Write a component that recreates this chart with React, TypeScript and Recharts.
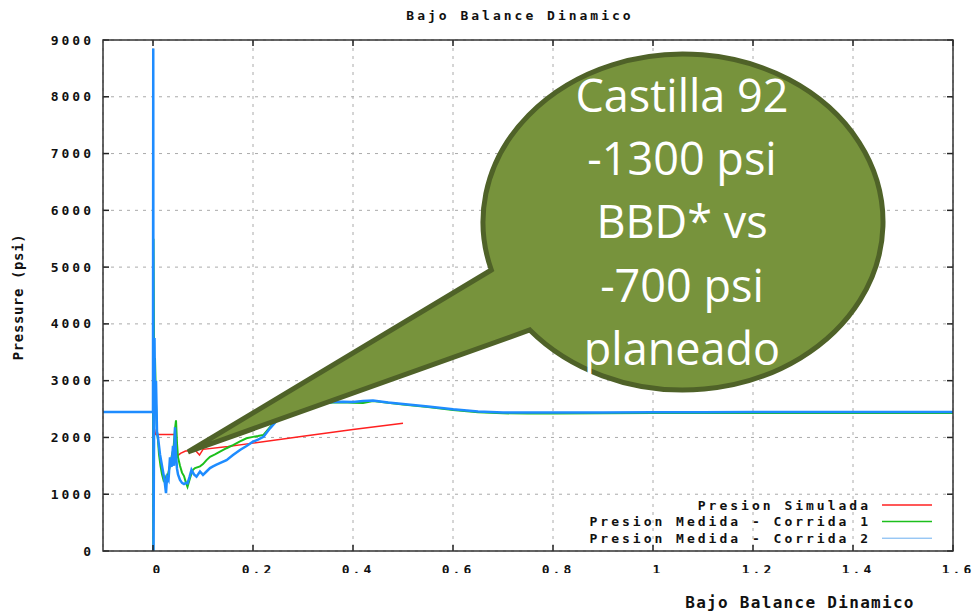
import React from "react"
import { LineChart, Line, XAxis, YAxis, CartesianGrid } from "recharts"

const W = 972
const H = 613
const PL = 103
const PT = 40
const PR = 953
const PB = 551

const FONT = '"DejaVu Sans Mono", monospace'

// Presion Simulada
const simT = [0.003, 0.005, 0.045, 0.047, 0.055, 0.065, 0.085, 0.093, 0.1, 0.15, 0.2, 0.3, 0.4, 0.5]
const simP = [2150, 2050, 2050, 1660, 1720, 1760, 1770, 1690, 1790, 1840, 1900, 2020, 2140, 2250]

// Presion Medida - Corrida 1
const run1T = [
  -0.1, 0, 0.0005, 0.001, 0.002, 0.003, 0.004, 0.006, 0.008, 0.01, 0.012, 0.015, 0.018, 0.021, 0.024, 0.027,
  0.03, 0.034, 0.038, 0.041, 0.044, 0.046, 0.048, 0.05, 0.054, 0.058, 0.062, 0.066, 0.069, 0.074, 0.079, 0.084,
  0.094, 0.1, 0.107, 0.114, 0.124, 0.134, 0.147, 0.161, 0.174, 0.187, 0.2, 0.21, 0.221, 0.231, 0.241, 0.26,
  0.28, 0.3, 0.33, 0.36, 0.38, 0.4, 0.42, 0.44, 0.47, 0.5, 0.55, 0.6, 0.65, 0.7, 0.75, 0.8, 0.9, 1.0, 1.2, 1.4, 1.6,
]
const run1P = [
  2450, 2450, 0, 5500, 3700, 2900, 3400, 2600, 2100, 1950, 1700, 1500, 1350, 1250, 1300, 1200,
  1350, 1500, 1700, 1800, 2150, 2300, 1900, 1650, 1500, 1380, 1320, 1200, 1130, 1280, 1420, 1460,
  1490, 1530, 1600, 1660, 1700, 1750, 1810, 1870, 1930, 1985, 2010, 2025, 2045, 2150, 2250, 2390,
  2490, 2550, 2600, 2615, 2620, 2610, 2605, 2640, 2610, 2580, 2535, 2485, 2445, 2425, 2420, 2420, 2425, 2430, 2430, 2430, 2430,
]

// Presion Medida - Corrida 2
const run2T = [
  -0.1, 0, 0.0005, 0.001, 0.003, 0.004, 0.006, 0.008, 0.01, 0.012, 0.014, 0.017, 0.02, 0.023, 0.026, 0.028,
  0.031, 0.034, 0.037, 0.04, 0.042, 0.044, 0.046, 0.048, 0.05, 0.054, 0.058, 0.062, 0.066, 0.069, 0.073, 0.077,
  0.082, 0.087, 0.094, 0.1, 0.107, 0.114, 0.12, 0.127, 0.137, 0.147, 0.16, 0.174, 0.187, 0.2, 0.21, 0.221,
  0.234, 0.244, 0.26, 0.28, 0.3, 0.33, 0.36, 0.38, 0.4, 0.42, 0.44, 0.47, 0.5, 0.55, 0.6, 0.65, 0.7, 0.8,
  0.9, 1.0, 1.1, 1.2, 1.3, 1.4, 1.5, 1.6,
]
const run2P = [
  2450, 2450, 8850, 0, 3750, 2600, 3000, 2100, 2000, 1850, 1700, 1550, 1400, 1250, 1020, 1300,
  1250, 1650, 1480, 1850, 1500, 2180, 1700, 1450, 1350, 1250, 1200, 1180, 1200, 1190, 1300, 1430,
  1350, 1310, 1400, 1340, 1400, 1460, 1490, 1520, 1560, 1600, 1690, 1780, 1850, 1925, 1960, 2010,
  2160, 2260, 2400, 2500, 2560, 2610, 2625, 2630, 2625, 2640, 2650, 2615, 2590, 2545, 2495, 2455, 2440, 2440,
  2440, 2445, 2445, 2448, 2448, 2450, 2450, 2450,
]

const xTicks = [0, 0.2, 0.4, 0.6, 0.8, 1, 1.2, 1.4, 1.6]
const yTicks = [0, 1000, 2000, 3000, 4000, 5000, 6000, 7000, 8000, 9000]

const seriesNames = ["Presion Simulada", "Presion Medida - Corrida 1", "Presion Medida - Corrida 2"]
const seriesColors = ["#ff2020", "#1cbf1c", "#1e8cff"]
const legendColors = ["#ff2020", "#1cbf1c", "#6aaef0"]

const bubbleLines = ["Castilla 92", "-1300 psi", "BBD* vs", "-700 psi", "planeado"]

const zip = (t: number[], p: number[]) => t.map((v, i) => ({ t: v, p: p[i] }))
const simData = zip(simT, simP)
const run1Data = zip(run1T, run1P)
const run2Data = zip(run2T, run2P)

function XTick({ x, payload }: any) {
  return (
    <g>
      <line x1={x} x2={x} y1={PB} y2={PB - 6} stroke="#222" strokeWidth={1.5} />
      <line x1={x} x2={x} y1={PT} y2={PT + 6} stroke="#222" strokeWidth={1.5} />
      <text
        x={x + 5}
        y={PB + 18}
        textAnchor="middle"
        dominantBaseline="central"
        fontFamily={FONT}
        fontWeight="bold"
        fontSize={13}
        letterSpacing={3}
        fill="#111"
      >
        {String(payload.value)}
      </text>
    </g>
  )
}

function YTick({ y, payload }: any) {
  return (
    <g>
      <line x1={PL} x2={PL + 6} y1={y} y2={y} stroke="#222" strokeWidth={1.5} />
      <line x1={PR - 6} x2={PR} y1={y} y2={y} stroke="#222" strokeWidth={1.5} />
      <text
        x={PL - 9}
        y={y}
        textAnchor="end"
        dominantBaseline="central"
        fontFamily={FONT}
        fontWeight="bold"
        fontSize={13}
        letterSpacing={3}
        fill="#111"
      >
        {payload.value}
      </text>
    </g>
  )
}

// speech bubble: ellipse joined with a tail pointing at the curves
const cx = 683
const cy = 222
const rx = 200
const ry = 168
const ax = cx - rx * Math.sqrt(1 - ((270 - cy) / ry) ** 2)
const bx = cx - rx * Math.sqrt(1 - ((330 - cy) / ry) ** 2)
const bubblePath = `M ${ax} 270 L 188 452 L ${bx} 330 A ${rx} ${ry} 0 1 0 ${ax} 270 Z`

export default function App() {
  return (
    <div style={{ position: "absolute", left: 0, top: 0, width: W, height: H, background: "#fff" }}>
      <LineChart width={W} height={H} margin={{ top: PT, right: W - PR, bottom: H - PB - 1, left: PL - 1 }}>
        <CartesianGrid stroke="#aaaaaa" strokeDasharray="3 5" />
        <XAxis
          type="number"
          dataKey="t"
          domain={[-0.1, 1.6]}
          ticks={xTicks}
          allowDataOverflow
          height={1}
          tickSize={0}
          tickMargin={0}
          axisLine={false}
          tick={(props: any) => <XTick {...props} />}
          interval={0}
        />
        <YAxis
          type="number"
          domain={[0, 9000]}
          ticks={yTicks}
          allowDataOverflow
          width={1}
          tickSize={0}
          tickMargin={0}
          axisLine={false}
          tick={(props: any) => <YTick {...props} />}
          interval={0}
        />
        <Line data={simData} dataKey="p" stroke={seriesColors[0]} strokeWidth={1.5} dot={false} isAnimationActive={false} />
        <Line data={run1Data} dataKey="p" stroke={seriesColors[1]} strokeWidth={2} dot={false} isAnimationActive={false} />
        <Line data={run2Data} dataKey="p" stroke={seriesColors[2]} strokeWidth={2.5} dot={false} isAnimationActive={false} />
      </LineChart>

      <svg width={W} height={H} style={{ position: "absolute", left: 0, top: 0, pointerEvents: "none" }}>
        <rect x={PL} y={PT} width={PR - PL} height={PB - PT} fill="none" stroke="#333" strokeWidth={1.5} />
        <rect x={100} y={573} width={W - 100} height={16} fill="#fff" />

        <text x={520} y={15} textAnchor="middle" dominantBaseline="central" fontFamily={FONT} fontWeight="bold" fontSize={13} letterSpacing={3} fill="#111">
          Bajo Balance Dinamico
        </text>
        <text x={800} y={602} textAnchor="middle" dominantBaseline="central" fontFamily={FONT} fontWeight="bold" fontSize={16} letterSpacing={1.3} fill="#111">
          Bajo Balance Dinamico
        </text>
        <text
          x={18}
          y={297}
          transform="rotate(-90 18 297)"
          textAnchor="middle"
          dominantBaseline="central"
          fontFamily={FONT}
          fontWeight="bold"
          fontSize={14}
          letterSpacing={0.6}
          fill="#111"
        >
          Pressure (psi)
        </text>

        {seriesNames.map((name, i) => (
          <g key={name}>
            <text
              x={871}
              y={505 + i * 16.6}
              textAnchor="end"
              dominantBaseline="central"
              fontFamily={FONT}
              fontWeight="bold"
              fontSize={13}
              letterSpacing={3}
              fill="#111"
            >
              {name}
            </text>
            <line x1={882} x2={932} y1={505 + i * 16.6} y2={505 + i * 16.6} stroke={legendColors[i]} strokeWidth={i === 2 ? 1 : 1.5} />
          </g>
        ))}

        <path d={bubblePath} fill="#77933c" stroke="#4f6228" strokeWidth={5} strokeLinejoin="miter" />
        {bubbleLines.map((s, i) => (
          <text key={s} x={682} y={112 + i * 63.2} textAnchor="middle" fontFamily='"Open Sans", sans-serif' fontSize={45} fill="#fff">
            {s}
          </text>
        ))}
      </svg>
    </div>
  )
}
